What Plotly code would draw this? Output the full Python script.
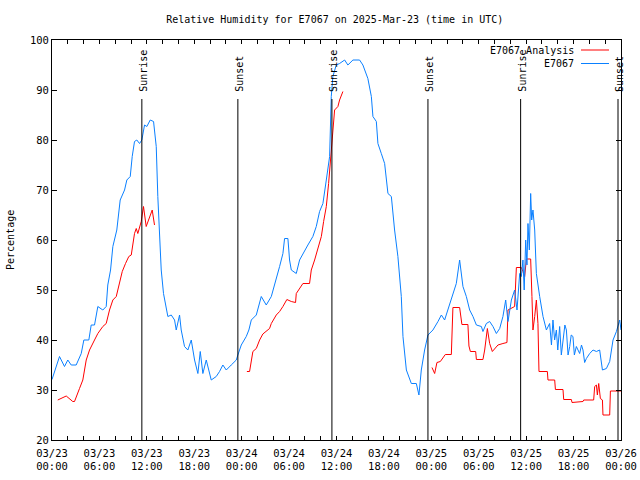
import pandas as pd
import plotly.graph_objects as go

START = "2025-03-23 00:00"
END = "2025-03-26 00:00"

# E7067 observed (hours since start, percentage)
obs_hours = [0.0, 0.95, 1.58, 2.0, 2.43, 3.06, 3.7, 4.03, 4.66, 4.96, 5.38, 5.8, 6.43, 6.86, 7.06, 7.41, 7.7,
             8.2, 8.63, 9.18, 9.47, 9.9, 10.15, 10.44, 10.73, 11.08, 11.37, 11.71, 12.0, 12.43, 12.85, 13.19,
             13.39, 13.61, 13.82, 14.11, 14.37, 14.66, 15.09, 15.51, 15.72, 16.14, 16.35, 16.77, 17.19, 17.62,
             18.04, 18.46, 18.76, 19.09, 19.52, 19.94, 20.15, 20.78, 21.2, 21.62, 22.05, 22.68, 23.32, 23.52,
             23.95, 24.58, 24.91, 25.22, 25.85, 26.48, 27.11, 27.75, 28.38, 28.8, 29.22, 29.43, 29.85, 30.06,
             30.28, 30.91, 31.33, 31.75, 32.38, 33.01, 33.44, 33.86, 34.28, 34.71, 35.13, 35.34, 35.54, 35.97,
             36.39, 37.03, 37.44, 38.08, 38.92, 39.34, 39.97, 40.41, 40.61, 41.04, 41.24, 41.67, 42.09, 42.51,
             42.94, 43.35, 43.77, 44.2, 44.41, 44.84, 45.47, 46.1, 46.43, 46.73, 47.15, 47.57, 48.2, 48.84,
             49.27, 49.68, 50.32, 50.73, 51.16, 51.58, 51.8, 52.0, 52.43, 52.85, 53.27, 53.7, 54.33, 54.53,
             54.96, 55.38, 55.8, 56.23, 56.65, 57.06, 57.41, 57.7, 58.13, 58.54, 58.84, 59.18, 59.39, 59.59,
             59.75, 59.94, 60.1, 60.23, 60.4, 60.57, 60.7, 60.86, 61.08, 61.29, 61.71, 62.13, 62.56, 62.97,
             63.2, 63.39, 63.6, 63.82, 64.0, 64.24, 64.45, 64.66, 64.9, 65.09, 65.3, 65.51, 65.7, 65.92, 66.1,
             66.35, 66.77, 67.0, 67.19, 67.4, 67.62, 68.04, 68.46, 68.89, 69.3, 69.65, 70.15, 70.57, 70.99,
             71.42, 71.84, 72.0]
obs_values = [32.1, 36.7, 34.7, 36.0, 35.0, 35.0, 37.3, 40.0, 40.0, 43.0, 43.0, 46.7, 46.0, 46.7, 51.0, 54.0,
              58.7, 62.0, 68.0, 70.0, 72.0, 72.7, 76.7, 79.7, 80.0, 79.3, 80.0, 83.0, 82.7, 84.0, 83.7, 78.7,
              68.7, 62.0, 54.0, 49.3, 47.3, 44.7, 45.0, 44.0, 42.0, 45.0, 42.0, 38.7, 38.0, 40.0, 36.0, 33.3,
              37.7, 33.3, 36.0, 33.3, 32.0, 32.7, 33.7, 35.0, 34.0, 35.0, 36.0, 37.0, 39.0, 40.7, 42.0, 44.0,
              45.0, 48.7, 47.0, 48.7, 52.0, 54.7, 57.3, 60.3, 60.3, 56.0, 54.0, 53.3, 56.0, 57.3, 59.0, 60.7,
              62.7, 65.7, 67.3, 72.0, 76.7, 88.7, 92.7, 95.0, 95.3, 96.0, 95.0, 96.0, 96.0, 95.0, 92.3, 88.7,
              84.7, 83.7, 79.3, 77.3, 75.3, 69.3, 68.7, 62.0, 56.7, 48.7, 40.7, 34.0, 31.3, 31.3, 29.0, 34.0,
              38.0, 41.0, 42.0, 43.7, 45.0, 44.0, 47.3, 49.0, 51.3, 56.0, 53.3, 50.7, 48.7, 46.0, 44.7, 43.0,
              42.7, 41.7, 43.3, 43.7, 42.7, 41.3, 42.3, 44.7, 48.0, 43.7, 48.0, 50.0, 46.0, 53.3, 52.7, 56.0,
              50.0, 60.0, 55.0, 63.3, 58.0, 69.3, 64.0, 66.0, 62.0, 53.3, 48.7, 44.7, 42.0, 43.3, 39.0, 44.0,
              40.0, 42.0, 38.0, 42.7, 37.0, 40.0, 43.0, 42.0, 37.0, 38.7, 41.0, 40.7, 37.0, 38.7, 37.3, 39.0,
              38.0, 35.5, 36.3, 37.3, 38.0, 37.7, 38.0, 34.0, 34.3, 35.7, 40.0, 41.7, 44.0, 42.0]

# E7067 Analysis (None marks a gap in the record)
ana_hours = [0.73, 1.8, 2.63, 2.85, 3.48, 3.9, 4.33, 4.75, 5.38, 5.8, 6.43, 6.86, 7.28, 7.7, 8.13, 8.54, 8.89,
             9.3, 9.72, 10.03, 10.44, 10.66, 10.86, 11.29, 11.58, 11.92, 12.25, 12.68, 12.97, 18.0,
             24.66, 25.0, 25.42, 25.85, 26.27, 26.68, 27.53, 27.75, 28.38, 28.8, 29.22, 29.72, 30.28, 30.82,
             30.91, 31.33, 31.75, 32.59, 32.81, 33.23, 33.65, 34.08, 34.37, 34.71, 35.0, 35.34, 35.54, 35.76,
             36.18, 36.39, 36.81, 42.0,
             48.08, 48.42, 48.71, 49.14, 49.77, 50.53, 50.73, 51.58, 51.87, 52.63, 52.76, 52.94, 53.61, 53.7,
             54.53, 54.75, 55.09, 55.38, 55.72, 56.01, 56.43, 57.06, 57.57, 57.7, 58.13, 58.54, 58.76, 59.39,
             59.59, 59.81, 60.03, 60.57, 60.73, 60.86, 61.08, 61.29, 61.49, 61.62, 62.68, 62.76, 63.61, 63.7,
             64.66, 64.75, 65.72, 65.8, 67.19, 67.28, 68.54, 68.67, 68.89, 69.01, 69.18, 69.39, 69.65, 69.72,
             70.57, 70.66, 72.0]
ana_values = [28.0, 28.8, 27.7, 27.7, 30.3, 32.0, 36.0, 38.0, 40.0, 41.3, 42.7, 43.3, 46.0, 48.0, 48.7, 51.3,
              53.7, 55.3, 56.7, 57.0, 61.3, 62.3, 61.3, 63.7, 66.7, 62.7, 64.0, 66.0, 63.0, None,
              33.7, 33.7, 37.7, 38.3, 40.0, 41.2, 42.3, 43.3, 45.0, 45.7, 46.7, 48.1, 47.7, 47.5, 49.3, 50.3,
              51.3, 51.3, 54.0, 56.0, 58.3, 60.7, 63.7, 66.7, 71.3, 78.0, 82.0, 86.0, 86.7, 88.0, 89.7, None,
              34.5, 33.3, 35.5, 35.7, 37.1, 37.1, 46.5, 46.5, 43.1, 43.1, 38.8, 37.7, 37.7, 36.1, 36.1, 38.0,
              42.3, 39.3, 37.7, 38.3, 39.0, 39.3, 39.5, 46.0, 46.3, 46.7, 54.5, 54.5, 53.7, 52.7, 56.2, 56.2,
              48.7, 42.0, 44.7, 48.0, 43.3, 33.7, 33.7, 32.0, 32.0, 30.1, 30.1, 28.1, 28.1, 27.5, 27.7, 28.0,
              28.0, 30.7, 31.0, 29.0, 31.3, 28.3, 28.0, 25.0, 25.0, 29.8, 29.8]

# Sun events (hours since start)
sun_hours = [11.37, 23.52, 35.42, 47.57, 59.3, 71.62]
sun_labels = ["Sunrise", "Sunset", "Sunrise", "Sunset", "Sunrise", "Sunset"]
sun_line_top = 88.2

y_ticks = [20, 30, 40, 50, 60, 70, 80, 90, 100]

FONT = "DejaVu Sans Mono"
BLUE = "#0a80ff"
RED = "#ff0000"

base = pd.Timestamp(START)
to_time = lambda hrs: [base + pd.to_timedelta(h, unit="h") for h in hrs]

fig = go.Figure()
fig.add_trace(go.Scatter(x=to_time(ana_hours), y=ana_values, mode="lines", name="E7067 Analysis",
                         line=dict(color=RED, width=1), connectgaps=False))
fig.add_trace(go.Scatter(x=to_time(obs_hours), y=obs_values, mode="lines", name="E7067",
                         line=dict(color=BLUE, width=1)))

for t, lab in zip(to_time(sun_hours), sun_labels):
    fig.add_trace(go.Scatter(x=[t, t], y=[y_ticks[0], sun_line_top], mode="lines",
                             line=dict(color="black", width=1), showlegend=False, hoverinfo="skip"))
    fig.add_annotation(x=t, y=sun_line_top, xref="x", yref="y", text=lab, textangle=-90,
                       showarrow=False, yanchor="bottom", xanchor="center", yshift=5, xshift=1,
                       font=dict(family=FONT, size=10, color="black"))

# x ticks every 2 hours, labelled every 6 hours
tick_times = pd.date_range(START, END, freq="2h")
tick_text = [t.strftime("%m/%d<br>%H:%M") if t.hour % 6 == 0 else "" for t in tick_times]

fig.update_layout(
    width=640, height=480,
    margin=dict(l=52, r=19, t=40, b=40, autoexpand=False),
    paper_bgcolor="white", plot_bgcolor="white",
    showlegend=False,
    font=dict(family=FONT, size=10, color="black"),
    title=dict(text="Relative Humidity for E7067 on 2025-Mar-23 (time in UTC)", x=0.523, xanchor="center",
               y=1 - 19 / 480, yanchor="middle", font=dict(family=FONT, size=10, color="black")),
)
fig.update_xaxes(range=[pd.Timestamp(START), pd.Timestamp(END)], tickvals=list(tick_times), ticktext=tick_text,
                 ticks="inside", ticklen=4, tickcolor="black", showline=True, linecolor="black", linewidth=1,
                 mirror="ticks", showgrid=False, zeroline=False, tickfont=dict(family=FONT, size=10.5),
                 ticklabelstandoff=3, automargin=False)
fig.update_yaxes(range=[20, 100], tickvals=y_ticks, ticks="inside", ticklen=5, tickcolor="black",
                 showline=True, linecolor="black", linewidth=1, mirror="ticks", showgrid=False, zeroline=False,
                 tickfont=dict(family=FONT, size=10.5), automargin=False)

# y-axis title
fig.add_annotation(x=-42 / 569, y=0.5, xref="paper", yref="paper", text="Percentage", textangle=-90,
                   showarrow=False, xanchor="center", yanchor="middle",
                   font=dict(family=FONT, size=10, color="black"))

# legend drawn in gnuplot style: text then line sample, top right
legend_rows = [("E7067 Analysis", RED), ("E7067", BLUE)]
for i, (name, col) in enumerate(legend_rows):
    ypix = 50 + i * 13.5
    yp = 1 - (ypix - 40) / 400
    fig.add_annotation(x=(576 - 52) / 569, y=yp, xref="paper", yref="paper", text=name, showarrow=False,
                       xanchor="right", yanchor="middle", font=dict(family=FONT, size=10, color="black"))
    fig.add_shape(type="line", xref="paper", yref="paper", x0=(581 - 52) / 569, x1=(609 - 52) / 569,
                  y0=yp, y1=yp, line=dict(color=col, width=1))

fig.write_html("out.html", config={"displayModeBar": False},
               post_script="document.body.style.margin='0';")
